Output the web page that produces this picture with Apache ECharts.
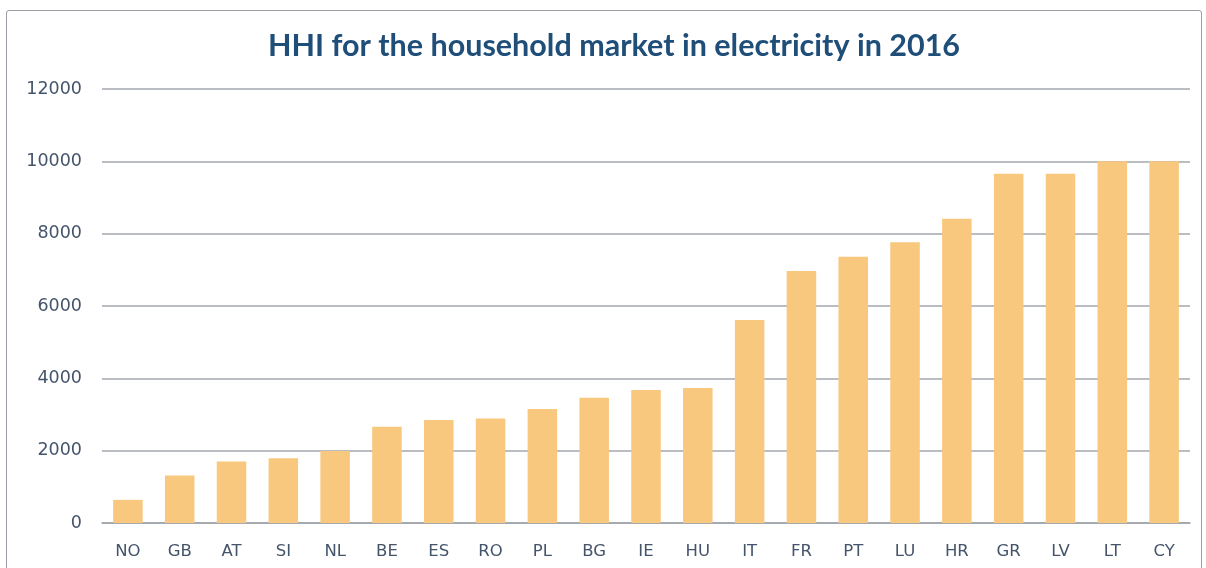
<!DOCTYPE html>
<html>
<head>
<meta charset="utf-8">
<script src="https://cdn.jsdelivr.net/npm/echarts@6/dist/echarts.min.js"></script>
<style>
  html, body { margin: 0; padding: 0; background: #ffffff; }
  #frame { position: absolute; left: 6px; top: 10px; width: 1196px; height: 570px; border: 1px solid #9a9ea6; border-radius: 3px; box-sizing: border-box; }
  #chart { width: 1206px; height: 568px; position: absolute; left: 0; top: 0; }
</style>
</head>
<body>
<div id="frame"></div>
<div id="chart"></div>
<script>
const categories = ["NO","GB","AT","SI","NL","BE","ES","RO","PL","BG","IE","HU","IT","FR","PT","LU","HR","GR","LV","LT","CY"];
const hhiValues = [640, 1310, 1700, 1790, 1990, 2660, 2850, 2890, 3150, 3460, 3680, 3730, 5610, 6970, 7360, 7760, 8410, 9660, 9660, 10000, 10000];
const titleText = "HHI for the household market in electricity in 2016";

const chart = echarts.init(document.getElementById('chart'), null, { renderer: 'canvas' });
chart.setOption({
  animation: false,
  backgroundColor: 'transparent',
  title: {
    text: titleText,
    left: 609,
    textAlign: 'center',
    top: 26,
    textStyle: { fontFamily: 'Lato', fontWeight: 'bold', fontSize: 30.5, color: '#1f4e79' }
  },
  grid: { left: 102, right: 16, top: 89, bottom: 45 },
  xAxis: {
    type: 'category',
    data: categories,
    axisLine: { show: true, lineStyle: { color: '#9ea3aa', width: 1.5 } },
    axisTick: { show: false },
    axisLabel: { color: '#44546a', fontFamily: 'DejaVu Sans', fontSize: 16.5, margin: 20 }
  },
  yAxis: {
    type: 'value',
    min: 0,
    max: 12000,
    interval: 2000,
    axisLine: { show: false },
    axisTick: { show: false },
    axisLabel: { color: '#44546a', fontFamily: 'DejaVu Sans', fontSize: 17.5, margin: 20, formatter: function (v) { return String(v); } },
    splitLine: { lineStyle: { color: '#a3a7ad', width: 1.5 } }
  },
  series: [{
    type: 'bar',
    data: hhiValues,
    barWidth: '57%',
    itemStyle: { color: '#f9c87f' }
  }]
});
</script>
</body>
</html>
